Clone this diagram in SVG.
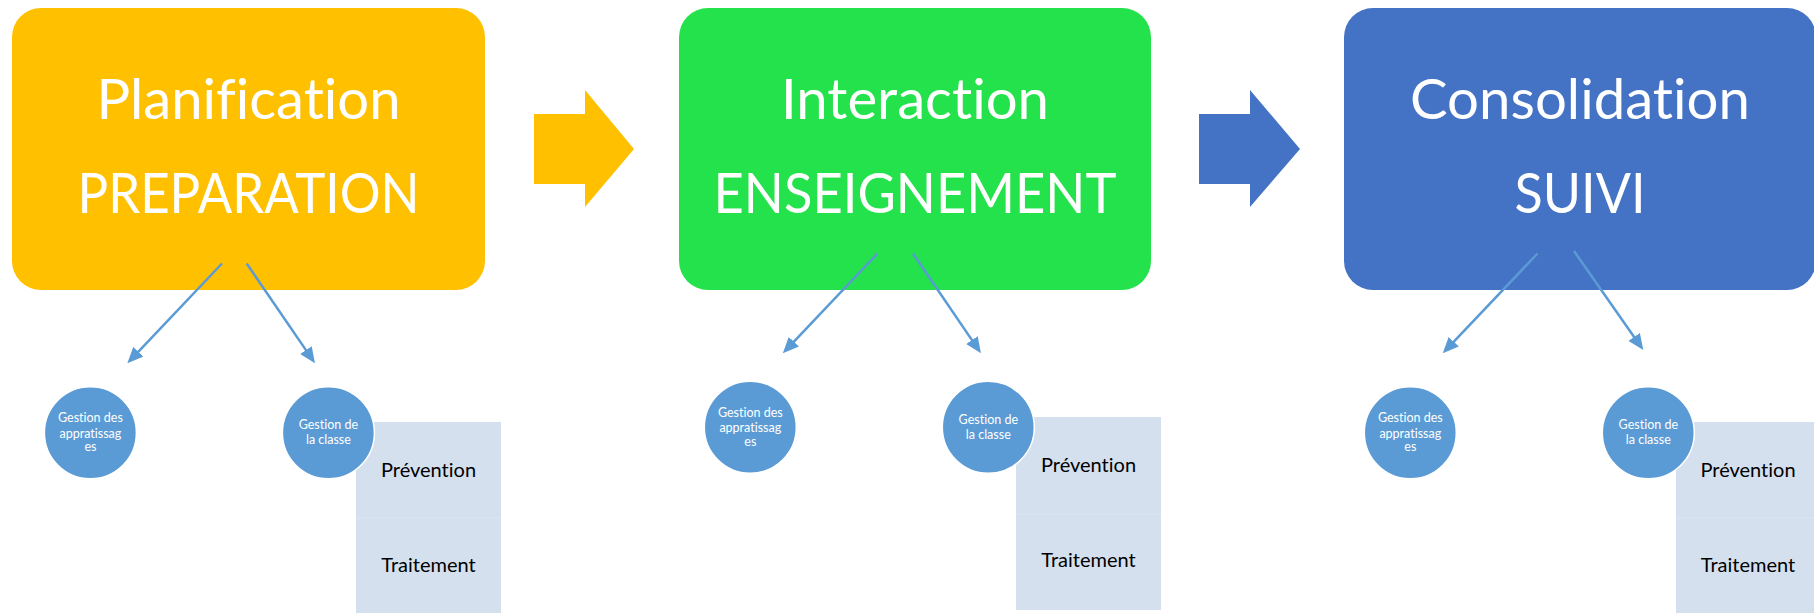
<svg xmlns="http://www.w3.org/2000/svg" width="1814" height="613" viewBox="0 0 1814 613">
<style>
text{font-variant-ligatures:none}
.title{font-family:Lato,"Liberation Sans",sans-serif;font-size:56px;font-weight:400;fill:#FFFFFF;text-anchor:middle}
.small{font-family:Lato,"Liberation Sans",sans-serif;font-size:12.5px;fill:#FFFFFF;text-anchor:middle}
.lbl{font-family:Lato,"Liberation Sans",sans-serif;font-size:20px;fill:#000000;text-anchor:middle}
.circ{fill:#5B9BD5;stroke:#FFFFFF;stroke-width:1.5}
.cell{fill:#D5E0EF}
.div{stroke:#DCE5F2;stroke-width:1}
.conn{stroke:#5B9BD5;stroke-width:2.5;fill:none;marker-end:url(#ah)}
</style>
<defs>
<marker id="ah" markerUnits="userSpaceOnUse" markerWidth="16" markerHeight="14" refX="4" refY="7" orient="auto">
<path d="M0,0 L16,7 L0,14 Z" fill="#5B9BD5"/>
</marker>
</defs>
<rect width="1814" height="613" fill="#FFFFFF"/>

<g id="stage1">
<rect x="12" y="8" width="473" height="282" rx="29" ry="29" fill="#FFC000"/>
<text class="title" x="248.5" y="119" textLength="304" lengthAdjust="spacingAndGlyphs">Planification</text>
<text class="title" x="248.5" y="213" textLength="342" lengthAdjust="spacingAndGlyphs">PREPARATION</text>
</g>
<g id="arrow1">
<polygon points="534,114 585,114 585,90 634,149 585,207 585,184 534,184" fill="#FFC000"/>
</g>
<g id="stage2">
<rect x="679" y="8" width="472" height="282" rx="29" ry="29" fill="#23E24B"/>
<text class="title" x="915" y="119" textLength="268" lengthAdjust="spacingAndGlyphs">Interaction</text>
<text class="title" x="915" y="213" textLength="403" lengthAdjust="spacingAndGlyphs">ENSEIGNEMENT</text>
</g>
<g id="arrow2">
<polygon points="1199,114 1250,114 1250,90 1300,149 1250,207 1250,184 1199,184" fill="#4472C4"/>
</g>
<g id="stage3">
<rect x="1344" y="8" width="472" height="282" rx="29" ry="29" fill="#4472C4"/>
<text class="title" x="1580" y="119" textLength="340" lengthAdjust="spacingAndGlyphs">Consolidation</text>
<text class="title" x="1580" y="213" textLength="131" lengthAdjust="spacingAndGlyphs">SUIVI</text>
</g>

<g id="list1">
<rect class="cell" x="356" y="422" width="145" height="96"/>
<rect class="cell" x="356" y="518" width="145" height="97"/>
<line class="div" x1="356" y1="518" x2="501" y2="518"/>
<text class="lbl" x="428.5" y="477">Prévention</text>
<text class="lbl" x="428.5" y="572">Traitement</text>
</g>
<g id="list2">
<rect class="cell" x="1016" y="417" width="145" height="97"/>
<rect class="cell" x="1016" y="514" width="145" height="96"/>
<line class="div" x1="1016" y1="514" x2="1161" y2="514"/>
<text class="lbl" x="1088.5" y="472">Prévention</text>
<text class="lbl" x="1088.5" y="567">Traitement</text>
</g>
<g id="list3">
<rect class="cell" x="1676" y="422" width="145" height="96"/>
<rect class="cell" x="1676" y="518" width="145" height="97"/>
<line class="div" x1="1676" y1="518" x2="1821" y2="518"/>
<text class="lbl" x="1748" y="477">Prévention</text>
<text class="lbl" x="1748" y="572">Traitement</text>
</g>

<g id="c1a">
<circle class="circ" cx="90.4" cy="432.7" r="46"/>
<text class="small" x="90.4" y="422.3">Gestion des</text>
<text class="small" x="90.4" y="437.5">appratissag</text>
<text class="small" x="90.4" y="451">es</text>
</g>
<g id="c1b">
<circle class="circ" cx="328.4" cy="432.7" r="46"/>
<text class="small" x="328.4" y="429.3">Gestion de</text>
<text class="small" x="328.4" y="444.3">la classe</text>
</g>
<g id="c2a">
<circle class="circ" cx="750.3" cy="427.3" r="46"/>
<text class="small" x="750.3" y="416.9">Gestion des</text>
<text class="small" x="750.3" y="432">appratissag</text>
<text class="small" x="750.3" y="445.6">es</text>
</g>
<g id="c2b">
<circle class="circ" cx="988.3" cy="427.3" r="46"/>
<text class="small" x="988.3" y="424">Gestion de</text>
<text class="small" x="988.3" y="439">la classe</text>
</g>
<g id="c3a">
<circle class="circ" cx="1410.3" cy="432.7" r="46"/>
<text class="small" x="1410.3" y="422.3">Gestion des</text>
<text class="small" x="1410.3" y="437.5">appratissag</text>
<text class="small" x="1410.3" y="451">es</text>
</g>
<g id="c3b">
<circle class="circ" cx="1648.3" cy="432.7" r="46"/>
<text class="small" x="1648.3" y="429.3">Gestion de</text>
<text class="small" x="1648.3" y="444.3">la classe</text>
</g>

<g id="connectors">
<line class="conn" x1="222" y1="263.5" x2="135.6" y2="354.6"/>
<line class="conn" x1="246.7" y1="263.5" x2="308.2" y2="353.4"/>
<line class="conn" x1="877.5" y1="253.5" x2="791.1" y2="344.6"/>
<line class="conn" x1="913" y1="253.5" x2="974.2" y2="343.4"/>
<line class="conn" x1="1537.5" y1="253.5" x2="1451" y2="344.6"/>
<line class="conn" x1="1574" y1="251" x2="1636.4" y2="340.2"/>
</g>
</svg>
